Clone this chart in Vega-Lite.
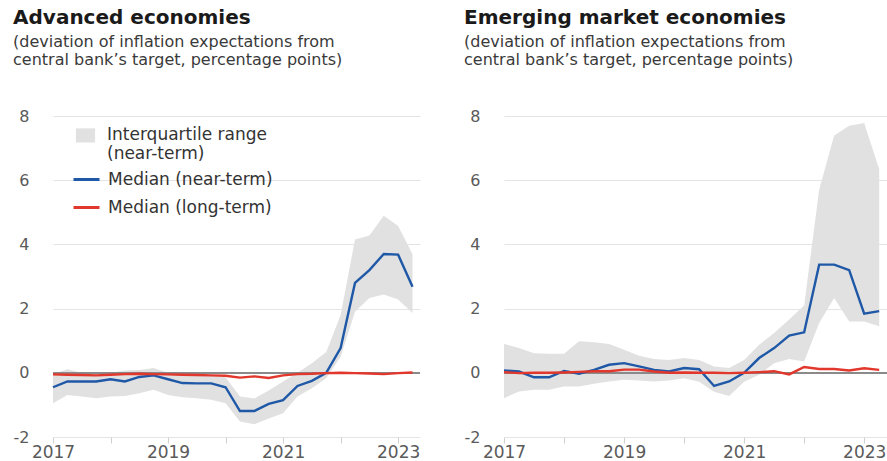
{
  "$schema": "https://vega.github.io/schema/vega-lite/v6.json",
  "padding": {"left": 13, "top": 8, "right": 0, "bottom": 0},
  "spacing": 43,
  "background": "white",
  "config": {
    "view": {"stroke": null},
    "font": "DejaVu Sans",
    "title": {"anchor": "start", "frame": "bounds", "dx": 0, "font": "DejaVu Sans", "fontSize": 20, "fontWeight": "bold", "color": "#1a1a1a", "subtitleFont": "DejaVu Sans", "subtitleFontSize": 16, "subtitleColor": "#3a3a3a", "subtitleLineHeight": 18, "subtitlePadding": 6, "offset": 40}
  },
  "datasets": {
    "ae": [
      {"t": 2017.0, "lo": -0.95, "hi": -0.04, "Median (near-term)": -0.45, "Median (long-term)": -0.05},
      {"t": 2017.25, "lo": -0.69, "hi": 0.11, "Median (near-term)": -0.27, "Median (long-term)": -0.06},
      {"t": 2017.5, "lo": -0.74, "hi": 0.0, "Median (near-term)": -0.27, "Median (long-term)": -0.07},
      {"t": 2017.75, "lo": -0.79, "hi": 0.0, "Median (near-term)": -0.27, "Median (long-term)": -0.08},
      {"t": 2018.0, "lo": -0.74, "hi": 0.0, "Median (near-term)": -0.2, "Median (long-term)": -0.06},
      {"t": 2018.25, "lo": -0.72, "hi": 0.07, "Median (near-term)": -0.27, "Median (long-term)": -0.04},
      {"t": 2018.5, "lo": -0.64, "hi": 0.09, "Median (near-term)": -0.13, "Median (long-term)": -0.03},
      {"t": 2018.75, "lo": -0.53, "hi": 0.15, "Median (near-term)": -0.08, "Median (long-term)": -0.04},
      {"t": 2019.0, "lo": -0.69, "hi": 0.0, "Median (near-term)": -0.2, "Median (long-term)": -0.05},
      {"t": 2019.25, "lo": -0.76, "hi": -0.04, "Median (near-term)": -0.32, "Median (long-term)": -0.06},
      {"t": 2019.5, "lo": -0.79, "hi": -0.07, "Median (near-term)": -0.33, "Median (long-term)": -0.07},
      {"t": 2019.75, "lo": -0.84, "hi": -0.09, "Median (near-term)": -0.33, "Median (long-term)": -0.08},
      {"t": 2020.0, "lo": -0.95, "hi": -0.14, "Median (near-term)": -0.45, "Median (long-term)": -0.09},
      {"t": 2020.25, "lo": -1.52, "hi": -0.74, "Median (near-term)": -1.19, "Median (long-term)": -0.15},
      {"t": 2020.5, "lo": -1.6, "hi": -0.8, "Median (near-term)": -1.19, "Median (long-term)": -0.11},
      {"t": 2020.75, "lo": -1.42, "hi": -0.55, "Median (near-term)": -0.97, "Median (long-term)": -0.16},
      {"t": 2021.0, "lo": -1.26, "hi": -0.27, "Median (near-term)": -0.85, "Median (long-term)": -0.08},
      {"t": 2021.25, "lo": -0.74, "hi": 0.0, "Median (near-term)": -0.41, "Median (long-term)": -0.04},
      {"t": 2021.5, "lo": -0.48, "hi": 0.3, "Median (near-term)": -0.25, "Median (long-term)": -0.03},
      {"t": 2021.75, "lo": -0.17, "hi": 0.65, "Median (near-term)": 0.0, "Median (long-term)": -0.01},
      {"t": 2022.0, "lo": 0.5, "hi": 1.8, "Median (near-term)": 0.77, "Median (long-term)": 0.0},
      {"t": 2022.25, "lo": 1.9, "hi": 4.15, "Median (near-term)": 2.8, "Median (long-term)": -0.01},
      {"t": 2022.5, "lo": 2.33, "hi": 4.28, "Median (near-term)": 3.2, "Median (long-term)": -0.02},
      {"t": 2022.75, "lo": 2.44, "hi": 4.89, "Median (near-term)": 3.7, "Median (long-term)": -0.04},
      {"t": 2023.0, "lo": 2.28, "hi": 4.57, "Median (near-term)": 3.68, "Median (long-term)": -0.01},
      {"t": 2023.25, "lo": 1.86, "hi": 3.69, "Median (near-term)": 2.68, "Median (long-term)": 0.01}
    ],
    "eme": [
      {"t": 2017.0, "lo": -0.79, "hi": 0.9, "Median (near-term)": 0.07, "Median (long-term)": 0.02},
      {"t": 2017.25, "lo": -0.58, "hi": 0.77, "Median (near-term)": 0.04, "Median (long-term)": -0.01},
      {"t": 2017.5, "lo": -0.53, "hi": 0.61, "Median (near-term)": -0.14, "Median (long-term)": 0.0},
      {"t": 2017.75, "lo": -0.53, "hi": 0.59, "Median (near-term)": -0.14, "Median (long-term)": 0.0},
      {"t": 2018.0, "lo": -0.43, "hi": 0.59, "Median (near-term)": 0.06, "Median (long-term)": 0.01},
      {"t": 2018.25, "lo": -0.43, "hi": 0.98, "Median (near-term)": -0.03, "Median (long-term)": 0.03},
      {"t": 2018.5, "lo": -0.34, "hi": 0.95, "Median (near-term)": 0.09, "Median (long-term)": 0.05},
      {"t": 2018.75, "lo": -0.27, "hi": 0.9, "Median (near-term)": 0.25, "Median (long-term)": 0.05},
      {"t": 2019.0, "lo": -0.22, "hi": 0.72, "Median (near-term)": 0.3, "Median (long-term)": 0.1},
      {"t": 2019.25, "lo": -0.24, "hi": 0.53, "Median (near-term)": 0.2, "Median (long-term)": 0.1},
      {"t": 2019.5, "lo": -0.27, "hi": 0.43, "Median (near-term)": 0.09, "Median (long-term)": 0.04},
      {"t": 2019.75, "lo": -0.24, "hi": 0.4, "Median (near-term)": 0.04, "Median (long-term)": 0.0},
      {"t": 2020.0, "lo": -0.17, "hi": 0.46, "Median (near-term)": 0.15, "Median (long-term)": 0.01},
      {"t": 2020.25, "lo": -0.28, "hi": 0.4, "Median (near-term)": 0.11, "Median (long-term)": 0.0},
      {"t": 2020.5, "lo": -0.59, "hi": 0.2, "Median (near-term)": -0.41, "Median (long-term)": 0.0},
      {"t": 2020.75, "lo": -0.72, "hi": 0.15, "Median (near-term)": -0.27, "Median (long-term)": -0.01},
      {"t": 2021.0, "lo": -0.28, "hi": 0.4, "Median (near-term)": 0.0, "Median (long-term)": 0.0},
      {"t": 2021.25, "lo": -0.06, "hi": 0.87, "Median (near-term)": 0.46, "Median (long-term)": 0.02},
      {"t": 2021.5, "lo": 0.3, "hi": 1.24, "Median (near-term)": 0.77, "Median (long-term)": 0.05},
      {"t": 2021.75, "lo": 0.43, "hi": 1.66, "Median (near-term)": 1.16, "Median (long-term)": -0.05},
      {"t": 2022.0, "lo": 0.35, "hi": 2.1, "Median (near-term)": 1.26, "Median (long-term)": 0.18},
      {"t": 2022.25, "lo": 1.55, "hi": 5.7, "Median (near-term)": 3.37, "Median (long-term)": 0.12},
      {"t": 2022.5, "lo": 2.33, "hi": 7.39, "Median (near-term)": 3.37, "Median (long-term)": 0.12},
      {"t": 2022.75, "lo": 1.6, "hi": 7.7, "Median (near-term)": 3.2, "Median (long-term)": 0.07},
      {"t": 2023.0, "lo": 1.6, "hi": 7.78, "Median (near-term)": 1.84, "Median (long-term)": 0.14},
      {"t": 2023.25, "lo": 1.45, "hi": 6.34, "Median (near-term)": 1.92, "Median (long-term)": 0.09}
    ]
  },
  "resolve": {"legend": {"fill": "independent", "stroke": "independent"}, "scale": {"x": "independent", "y": "independent"}},
  "hconcat": [
    {
      "width": 367,
      "height": 321,
      "data": {"name": "ae"},
      "title": {"text": "Advanced economies", "subtitle": ["(deviation of inflation expectations from", "central bank’s target, percentage points)"]},
      "layer": [
        {
          "mark": {"type": "area", "opacity": 1},
          "encoding": {
            "x": {"field": "t", "type": "quantitative", "scale": {"domain": [2017, 2023.38], "nice": false, "zero": false},
              "axis": {"values": [2017, 2018, 2019, 2020, 2021, 2022, 2023], "labelExpr": "datum.value % 2 == 1 ? ''+datum.value : ''", "grid": false, "domain": false, "tickColor": "#cfcfcf", "tickSize": 6, "labelFontSize": 17, "labelColor": "#5a5a5a", "labelFont": "DejaVu Sans", "labelPadding": 1, "title": null, "labelFlush": false, "labelOverlap": false}},
            "y": {"field": "lo", "type": "quantitative", "scale": {"domain": [-2, 8], "nice": false},
              "axis": {"values": [-2, 0, 2, 4, 6, 8], "domain": false, "ticks": false, "title": null, "labelExpr": "''+datum.value", "labelPadding": 24, "labelFontSize": 16, "labelColor": "#5a5a5a", "labelFont": "DejaVu Sans", "gridColor": "#e4e4e4", "gridWidth": 1.2}},
            "y2": {"field": "hi"},
            "fill": {"datum": "Interquartile range", "type": "nominal", "scale": {"domain": ["Interquartile range"], "range": ["#e1e1e1"]},
              "legend": {"orient": "none", "legendX": 24, "legendY": 15, "title": null, "symbolType": "M-1.19,-1.38H1.19V0.37H-1.19Z", "symbolSize": 260, "symbolStrokeWidth": 0, "labelFontSize": 17, "labelColor": "#333", "labelFont": "DejaVu Sans", "labelOffset": 13, "labelExpr": "['Interquartile range', '(near-term)']", "labelBaseline": "alphabetic", "labelLimit": 400}}
          }
        },
        {
          "mark": {"type": "rule", "color": "#8a8a8a", "strokeWidth": 1.5},
          "encoding": {"y": {"datum": 0, "type": "quantitative"}}
        },
        {
          "transform": [{"fold": ["Median (near-term)", "Median (long-term)"], "as": ["series", "v"]}],
          "mark": {"type": "line", "strokeWidth": 2.4},
          "encoding": {
            "x": {"field": "t", "type": "quantitative"},
            "y": {"field": "v", "type": "quantitative"},
            "stroke": {"field": "series", "type": "nominal", "scale": {"domain": ["Median (near-term)", "Median (long-term)"], "range": ["#1f58a6", "#e1372c"]},
              "legend": {"orient": "none", "legendX": 19, "legendY": 49, "title": null, "symbolType": "stroke", "symbolSize": 676, "symbolStrokeWidth": 3, "labelFontSize": 17, "labelColor": "#333", "labelFont": "DejaVu Sans", "labelOffset": 7, "rowPadding": 5, "labelLimit": 400}}
          }
        }
      ]
    },
    {
      "width": 383,
      "height": 321,
      "data": {"name": "eme"},
      "title": {"text": "Emerging market economies", "subtitle": ["(deviation of inflation expectations from", "central bank’s target, percentage points)"]},
      "layer": [
        {
          "mark": {"type": "area", "opacity": 1},
          "encoding": {
            "x": {"field": "t", "type": "quantitative", "scale": {"domain": [2017, 2023.38], "nice": false, "zero": false},
              "axis": {"values": [2017, 2018, 2019, 2020, 2021, 2022, 2023], "labelExpr": "datum.value % 2 == 1 ? ''+datum.value : ''", "grid": false, "domain": false, "tickColor": "#cfcfcf", "tickSize": 6, "labelFontSize": 17, "labelColor": "#5a5a5a", "labelFont": "DejaVu Sans", "labelPadding": 1, "title": null, "labelFlush": false, "labelOverlap": false}},
            "y": {"field": "lo", "type": "quantitative", "scale": {"domain": [-2, 8], "nice": false},
              "axis": {"values": [-2, 0, 2, 4, 6, 8], "domain": false, "ticks": false, "title": null, "labelExpr": "''+datum.value", "labelPadding": 24, "labelFontSize": 16, "labelColor": "#5a5a5a", "labelFont": "DejaVu Sans", "gridColor": "#e4e4e4", "gridWidth": 1.2}},
            "y2": {"field": "hi"},
            "fill": {"datum": "Interquartile range", "type": "nominal", "scale": {"domain": ["Interquartile range"], "range": ["#e1e1e1"]}, "legend": null}
          }
        },
        {
          "mark": {"type": "rule", "color": "#8a8a8a", "strokeWidth": 1.5},
          "encoding": {"y": {"datum": 0, "type": "quantitative"}}
        },
        {
          "transform": [{"fold": ["Median (near-term)", "Median (long-term)"], "as": ["series", "v"]}],
          "mark": {"type": "line", "strokeWidth": 2.4},
          "encoding": {
            "x": {"field": "t", "type": "quantitative"},
            "y": {"field": "v", "type": "quantitative"},
            "stroke": {"field": "series", "type": "nominal", "scale": {"domain": ["Median (near-term)", "Median (long-term)"], "range": ["#1f58a6", "#e1372c"]}, "legend": null}
          }
        }
      ]
    }
  ]
}
